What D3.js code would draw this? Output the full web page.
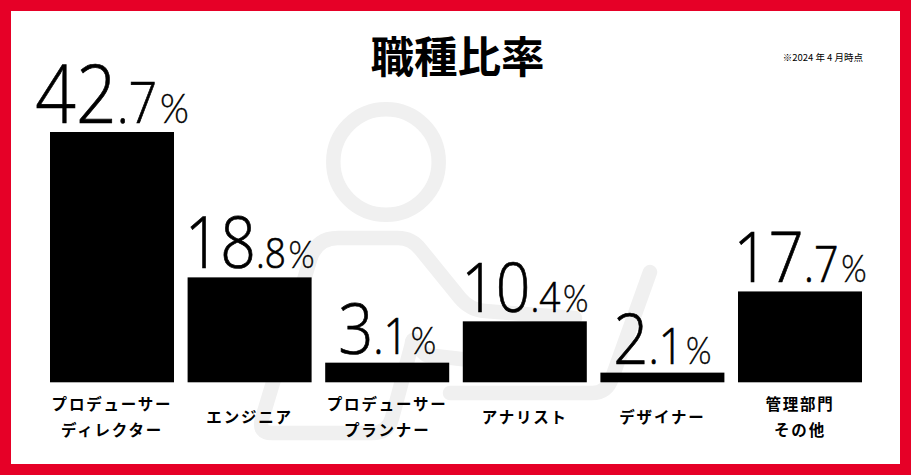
<!DOCTYPE html>
<html lang="ja">
<head>
<meta charset="utf-8">
<script src="https://cdn.jsdelivr.net/npm/d3@7"></script>
<style>
  html, body { margin: 0; padding: 0; background: #fff; }
  svg { display: block; }
  text { fill: #000; }
  .cjk { font-family: "Noto Sans CJK JP", sans-serif; }
  .num { font-family: "Open Sans", sans-serif; font-weight: 300; stroke: #000; stroke-width: 0.7px; }
  .pct { font-family: "Lato", sans-serif; font-weight: 300; stroke-width: 0.4px; }
</style>
</head>
<body>
<script>
const categories = ["プロデューサー\nディレクター", "エンジニア", "プロデューサー\nプランナー", "アナリスト", "デザイナー", "管理部門\nその他"];
const values = [42.7, 18.8, 3.1, 10.4, 2.1, 17.7];
// the bars in the picture are not proportional to their labels, so this is the length read off each bar
const barLengths = [42.7, 17.9, 3.35, 10.4, 1.65, 15.5];

// font sizes for integer part, decimal part, % sign
const labelSizes = [[81, 57, 42], [71, 42, 38], [70, 49, 37], [69, 42, 37], [70, 49, 37], [70, 49, 37]];

const width = 911;
const height = 475;
const baseline = 382.3;

const svg = d3.select("body")
  .append("svg")
  .attr("width", width)
  .attr("height", height);

// background icon
const icon = svg.append("g")
  .attr("fill", "none")
  .attr("stroke", "#f0f0f0")
  .attr("stroke-width", 14.5)
  .attr("stroke-linecap", "round")
  .attr("stroke-linejoin", "round");

icon.append("circle").attr("cx", 386).attr("cy", 162).attr("r", 52.7);
icon.append("path").attr("d", "M413 340 L392 418 Q388 433 372 433 L272 433 Q258 433 262 419 L310 260 Q316 238 338 238 L398 238 Q412 238 421 250 L460 298 Q470 310 485 311 L575 318");
icon.append("path").attr("d", "M412 342 L426 355 L470 360");
icon.append("path").attr("d", "M650 272 L612 378 Q607 393 592 393 L450 393");

// frame
svg.append("rect")
  .attr("x", 5.5)
  .attr("y", 5.5)
  .attr("width", width - 11)
  .attr("height", height - 11)
  .attr("fill", "none")
  .attr("stroke", "#e60027")
  .attr("stroke-width", 11);

const x = d3.scaleBand()
  .domain(categories)
  .range([50, 862])
  .paddingInner(0.0988)
  .paddingOuter(0);

const y = d3.scaleLinear()
  .domain([0, 42.7])
  .range([baseline, 132]);

svg.selectAll(".bar")
  .data(categories)
  .enter()
  .append("rect")
  .attr("class", "bar")
  .attr("x", d => x(d))
  .attr("y", (d, i) => y(barLengths[i]))
  .attr("width", x.bandwidth())
  .attr("height", (d, i) => y(0) - y(barLengths[i]))
  .attr("fill", "#000");

// value labels, digits squeezed a bit to get the narrow look of the original
const labels = svg.selectAll(".value")
  .data(values)
  .enter()
  .append("text")
  .attr("class", "value num")
  .attr("text-anchor", "middle")
  .attr("transform", (d, i) => `translate(${x(categories[i]) + x.bandwidth() / 2},${y(barLengths[i]) - 9}) scale(0.88,1)`);

labels.each(function(d, i) {
  const parts = d3.format(".1f")(d).split(".");
  const t = d3.select(this);
  t.append("tspan").attr("font-size", labelSizes[i][0]).text(parts[0]);
  t.append("tspan").attr("font-size", labelSizes[i][1]).text("." + parts[1]);
  t.append("tspan").attr("class", "pct").attr("font-size", labelSizes[i][2]).attr("dx", 3).text("%");
});

// category axis
const axis = svg.append("g")
  .attr("transform", `translate(0,${baseline})`)
  .call(d3.axisBottom(x).tickSize(0).tickFormat(""));

axis.select(".domain").remove();

axis.selectAll(".tick text").each(function(d) {
  const lines = d.split("\n");
  const t = d3.select(this)
    .attr("class", "cjk")
    .attr("y", lines.length == 1 ? 41 : 28)
    .attr("dy", 0)
    .attr("font-size", 15.5)
    .attr("font-weight", 700)
    .attr("letter-spacing", 1.8);
  lines.forEach((line, i) => {
    t.append("tspan")
      .attr("x", 0)
      .attr("dy", i == 0 ? 0 : 26)
      .text(line);
  });
});

svg.append("text")
  .attr("class", "cjk")
  .attr("x", 457.5)
  .attr("y", 73)
  .attr("text-anchor", "middle")
  .attr("font-size", 43.5)
  .attr("font-weight", 700)
  .text("職種比率");

svg.append("text")
  .attr("class", "cjk")
  .attr("x", 863)
  .attr("y", 61)
  .attr("text-anchor", "end")
  .attr("font-size", 9.5)
  .text("※2024 年 4 月時点");
</script>
</body>
</html>
